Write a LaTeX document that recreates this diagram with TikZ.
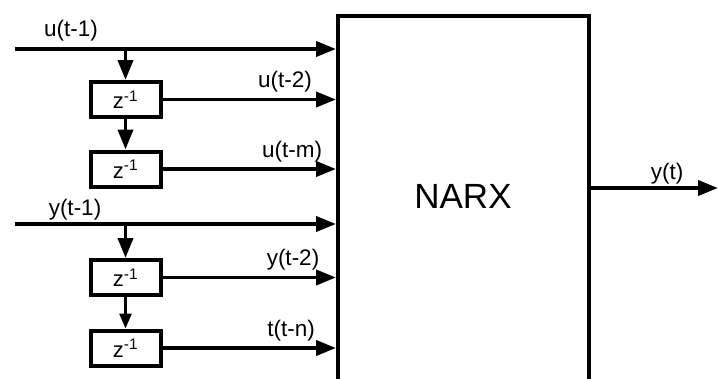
\documentclass[tikz,border=0pt]{standalone}
\usepackage{fontspec}
\setmainfont{Liberation Sans}
\usetikzlibrary{arrows.meta}
\begin{document}
\begin{tikzpicture}[x=1pt,y=-1pt,
  line width=3.8pt,
  >={Triangle[length=20pt,width=15pt]},
  small tip/.style={-{Triangle[length=15pt,width=12pt]}, line width=2.8pt},
  delay/.style={draw, line width=4pt, minimum width=70pt, minimum height=35pt,
    inner sep=0pt, font=\fontsize{22}{26}\selectfont},
  sig/.style={inner sep=0pt, font=\fontsize{22.5}{26}\selectfont},
]
\useasboundingbox (0,0) rectangle (718,378);
\clip (0,0) rectangle (718,378);

% NARX block (runs past the lower edge)
\node[draw, line width=4pt, minimum width=251pt, minimum height=400pt,
      anchor=north west, inner sep=0pt] (narx) at (336,14) {};
\node[inner sep=0pt, font=\fontsize{35}{40}\selectfont] (narxtext) at (463,196) {NARX};

% delay elements
\node[delay] (d1) at (125.5,99.5) {z\textsuperscript{-1}};
\node[delay] (d2) at (125.5,169) {z\textsuperscript{-1}};
\node[delay] (d3) at (125.5,277.5) {z\textsuperscript{-1}};
\node[delay] (d4) at (125.5,348) {z\textsuperscript{-1}};

% input taps
\coordinate (uin) at (15,49);
\coordinate (yin) at (15,224);
\coordinate (ub) at (d1.north |- uin);
\coordinate (yb) at (d3.north |- yin);

\draw[->] (uin) -- (uin -| narx.west);
\draw[->] (ub) -- (d1.north);
\draw[->] (d1.south) -- (d2.north);
\draw[->] (d1.east) -- (d1.east -| narx.west);
\draw[->] (d2.east) -- (d2.east -| narx.west);

\draw[->] (yin) -- (yin -| narx.west);
\draw[->] (yb) -- (d3.north);
\draw[small tip] (d3.south) -- (d4.north);
\draw[->] (d3.east) -- (d3.east -| narx.west);
\draw[->] (d4.east) -- (d4.east -| narx.west);

% output
\coordinate (yout) at (718,188);
\draw[->] (narx.east |- yout) -- (yout);

% signal labels
\node[sig] (lu1) at (71,31) {u(t-1)};
\node[sig] (lu2) at (285,82) {u(t-2)};
\node[sig] (lum) at (292,152) {u(t-m)};
\node[sig] (ly1) at (75,210) {y(t-1)};
\node[sig] (ly2) at (293,260) {y(t-2)};
\node[sig] (ltn) at (291,331) {t(t-n)};
\node[sig] (lyt) at (667,174) {y(t)};
\end{tikzpicture}
\end{document}
